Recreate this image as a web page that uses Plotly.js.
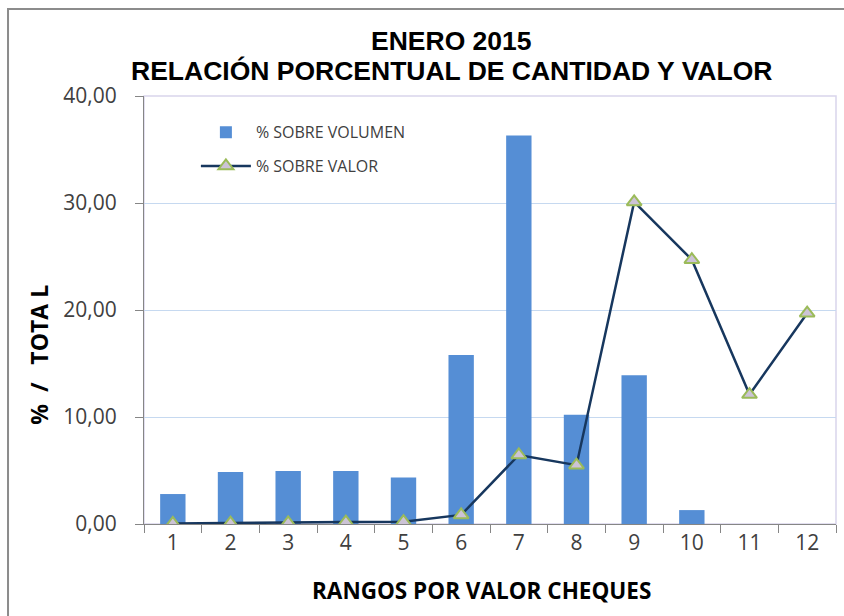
<!DOCTYPE html>
<html>
<head>
<meta charset="utf-8">
<script src="https://cdn.plot.ly/plotly-3.0.1.min.js"></script>
<style>
  html, body { margin: 0; padding: 0; background: #fff; }
  #chart { width: 844px; height: 616px; }
</style>
</head>
<body>
<div id="chart"></div>
<script>
var rangos = ['1', '2', '3', '4', '5', '6', '7', '8', '9', '10', '11', '12'];
var sobreVolumen = [2.8, 4.85, 4.95, 4.95, 4.35, 15.8, 36.3, 10.2, 13.9, 1.3, 0, 0];
var sobreValor = [0.05, 0.07, 0.1, 0.18, 0.22, 0.85, 6.45, 5.5, 30.1, 24.7, 12.1, 19.7];

var tickFont = {family: 'Open Sans, sans-serif', size: 21, color: '#404040'};

var data = [
  {
    type: 'bar',
    name: '% SOBRE VOLUMEN',
    x: rangos,
    y: sobreVolumen,
    width: 0.44,
    marker: {color: '#558ED5', line: {width: 0}},
    legendgroup: 'a'
  },
  {
    type: 'scatter',
    mode: 'lines+markers',
    name: '% SOBRE VALOR',
    x: rangos,
    y: sobreValor,
    line: {color: '#17375E', width: 2.5},
    marker: {symbol: 'triangle-up', size: 13, color: '#CCC3D6', line: {color: '#9BBB59', width: 2}},
    legendgroup: 'b'
  }
];

var layout = {
  width: 844,
  height: 616,
  margin: {l: 144, r: 8, t: 96, b: 92},
  paper_bgcolor: '#fff',
  plot_bgcolor: '#fff',
  separators: ',.',
  showlegend: true,
  legend: {
    x: 0.075, y: 0.955, xanchor: 'left', yanchor: 'top',
    bgcolor: 'rgba(0,0,0,0)',
    font: {family: 'Open Sans, sans-serif', size: 16, color: '#404040'},
    tracegroupgap: 10,
    traceorder: 'grouped',
    itemwidth: 50
  },
  xaxis: {
    type: 'category',
    range: [-0.5, 11.5],
    showline: true,
    linecolor: '#868686',
    linewidth: 1,
    ticks: 'outside',
    tickson: 'boundaries',
    ticklen: 8,
    tickcolor: '#868686',
    tickfont: tickFont,
    showgrid: false,
    zeroline: false
  },
  yaxis: {
    range: [0, 40],
    dtick: 10,
    tickformat: '.2f',
    showline: true,
    linecolor: '#868686',
    linewidth: 1,
    ticks: 'outside',
    ticklen: 8,
    tickcolor: '#868686',
    tickfont: tickFont,
    ticklabelstandoff: 14,
    gridcolor: '#C6D9F0',
    gridwidth: 1,
    zeroline: false
  },
  shapes: [
    {type: 'rect', xref: 'paper', yref: 'paper', x0: 0, x1: 1, y0: 0, y1: 1,
     line: {color: '#D9D5EC', width: 1.5}, layer: 'below'},
    {type: 'rect', xref: 'paper', yref: 'paper', x0: -0.1965, x1: 1.03, y0: -0.25, y1: 1.2035,
     line: {color: '#8C8C8C', width: 2}}
  ],
  annotations: [
    {text: '<b>ENERO 2015</b>', xref: 'paper', yref: 'paper', x: 0.445, y: 1.128,
     xanchor: 'center', yanchor: 'middle', showarrow: false,
     font: {family: 'Liberation Sans, Arial, sans-serif', size: 26.5, color: '#000'}},
    {text: '<b>RELACIÓN PORCENTUAL DE CANTIDAD Y VALOR</b>', xref: 'paper', yref: 'paper', x: 0.445, y: 1.058,
     xanchor: 'center', yanchor: 'middle', showarrow: false,
     font: {family: 'Liberation Sans, Arial, sans-serif', size: 26.5, color: '#000'}},
    {text: '<b>RANGOS POR VALOR CHEQUES</b>', xref: 'paper', yref: 'paper', x: 0.487, y: -0.155,
     xanchor: 'center', yanchor: 'middle', showarrow: false,
     font: {family: 'Open Sans, sans-serif', size: 22.5, color: '#000'}},
    {text: '<b>%  /   TOTA L</b>', xref: 'paper', yref: 'paper', x: -0.152, y: 0.395,
     xanchor: 'center', yanchor: 'middle', showarrow: false, textangle: -90,
     font: {family: 'Open Sans, sans-serif', size: 23, color: '#000'}}
  ]
};

Plotly.newPlot('chart', data, layout, {displayModeBar: false});
</script>
</body>
</html>
